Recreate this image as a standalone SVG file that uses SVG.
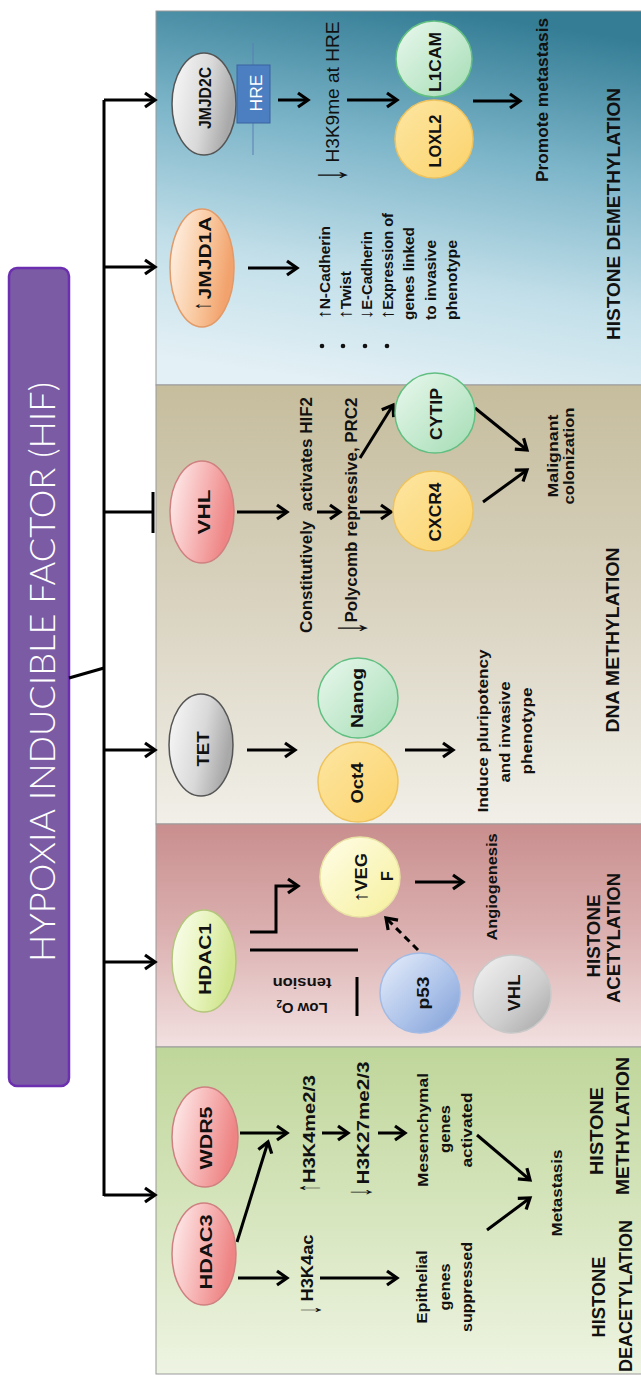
<svg xmlns="http://www.w3.org/2000/svg" width="641" height="1375" viewBox="0 0 641 1375">
<defs>
<style>
.t{font-family:"Liberation Sans",Arial,sans-serif;fill:#111;}
.b{font-weight:bold;font-size:16px;}
.s{font-weight:bold;font-size:15px;}
.r{font-size:19px;}
.p{font-weight:bold;font-size:19px;fill:#111;}
.ar{font-family:"Liberation Sans",Arial,sans-serif;font-weight:normal;fill:#111;text-anchor:middle;dominant-baseline:central;}
.ai{font-weight:normal;font-size:1.25em;}
.l{stroke:#000;stroke-width:3;fill:none;}
.a{marker-end:url(#ah);}
.panel{stroke:#9a9a9a;stroke-width:1;}
</style>
<marker id="ah" markerUnits="userSpaceOnUse" markerWidth="18" markerHeight="18" viewBox="0 0 18 18" refX="15" refY="9" orient="auto">
<path d="M5,2 L15,9 L5,16" fill="none" stroke="#000" stroke-width="3.2"/>
</marker>
<linearGradient id="pBlue" x1="0.6" y1="0" x2="0.4" y2="1">
<stop offset="0" stop-color="#347d95"/><stop offset="0.35" stop-color="#7bb4c8"/><stop offset="0.7" stop-color="#c2dfe9"/><stop offset="1" stop-color="#e3f0f5"/>
</linearGradient>
<linearGradient id="pTan" x1="0" y1="0" x2="0" y2="1">
<stop offset="0" stop-color="#c6bd9d"/><stop offset="0.5" stop-color="#d9d3c0"/><stop offset="1" stop-color="#f1efe8"/>
</linearGradient>
<linearGradient id="pPink" x1="0" y1="0" x2="0" y2="1">
<stop offset="0" stop-color="#c98e8e"/><stop offset="0.5" stop-color="#dcb1b1"/><stop offset="1" stop-color="#f2e0e0"/>
</linearGradient>
<linearGradient id="pGreen" x1="0" y1="0" x2="0" y2="1">
<stop offset="0" stop-color="#bfd69a"/><stop offset="0.5" stop-color="#d6e5bd"/><stop offset="1" stop-color="#eef4e2"/>
</linearGradient>
<linearGradient id="gGray" x1="0" y1="0" x2="1" y2="0.3">
<stop offset="0" stop-color="#fafafa"/><stop offset="0.6" stop-color="#d9d9d9"/><stop offset="1" stop-color="#a9a9a9"/>
</linearGradient>
<linearGradient id="gPink" x1="0" y1="0" x2="1" y2="0.3">
<stop offset="0" stop-color="#fff2f2"/><stop offset="0.6" stop-color="#f6b0b0"/><stop offset="1" stop-color="#ee8484"/>
</linearGradient>
<linearGradient id="gOrange" x1="0" y1="0" x2="1" y2="0.3">
<stop offset="0" stop-color="#fff5ec"/><stop offset="0.6" stop-color="#f9c9a0"/><stop offset="1" stop-color="#f2a26c"/>
</linearGradient>
<linearGradient id="gLime" x1="0" y1="0" x2="1" y2="0.3">
<stop offset="0" stop-color="#fbfef0"/><stop offset="0.6" stop-color="#e6f3ba"/><stop offset="1" stop-color="#d0e58e"/>
</linearGradient>
<linearGradient id="gGreen" x1="0" y1="0" x2="1" y2="1">
<stop offset="0" stop-color="#eaf8ee"/><stop offset="1" stop-color="#a4ddb4"/>
</linearGradient>
<linearGradient id="gYellow" x1="0" y1="0" x2="1" y2="1">
<stop offset="0" stop-color="#fde6a2"/><stop offset="1" stop-color="#fbd36c"/>
</linearGradient>
<linearGradient id="gVegf" x1="0" y1="0" x2="1" y2="1">
<stop offset="0" stop-color="#fffde8"/><stop offset="1" stop-color="#f6f09c"/>
</linearGradient>
<linearGradient id="gBlue" x1="0" y1="0" x2="1" y2="1">
<stop offset="0" stop-color="#e8effb"/><stop offset="0.6" stop-color="#a9c0e8"/><stop offset="1" stop-color="#7f9fd6"/>
</linearGradient>
<linearGradient id="gGray2" x1="0" y1="0" x2="1" y2="1">
<stop offset="0" stop-color="#f4f4f4"/><stop offset="0.6" stop-color="#cdcdcd"/><stop offset="1" stop-color="#a4a4a4"/>
</linearGradient>
</defs>

<rect width="641" height="1375" fill="#ffffff"/>

<g id="panels">
<rect class="panel" x="156" y="11" width="486" height="374" fill="url(#pBlue)"/>
<rect class="panel" x="156" y="385" width="486" height="439" fill="url(#pTan)"/>
<rect class="panel" x="156" y="824" width="486" height="223" fill="url(#pPink)"/>
<rect class="panel" x="156" y="1047" width="486" height="327" fill="url(#pGreen)"/>
<text class="t p" transform="translate(620,214) rotate(-90)" text-anchor="middle" textLength="252" lengthAdjust="spacingAndGlyphs">HISTONE DEMETHYLATION</text>
<text class="t p" transform="translate(619,640) rotate(-90)" text-anchor="middle" textLength="185" lengthAdjust="spacingAndGlyphs">DNA METHYLATION</text>
<text class="t p" transform="translate(600,936) rotate(-90)" text-anchor="middle" textLength="83" lengthAdjust="spacingAndGlyphs">HISTONE</text>
<text class="t p" transform="translate(620,938) rotate(-90)" text-anchor="middle" textLength="130" lengthAdjust="spacingAndGlyphs">ACETYLATION</text>
<text class="t p" transform="translate(603,1131) rotate(-90)" text-anchor="middle" textLength="88" lengthAdjust="spacingAndGlyphs">HISTONE</text>
<text class="t p" transform="translate(629,1126) rotate(-90)" text-anchor="middle" textLength="138" lengthAdjust="spacingAndGlyphs">METHYLATION</text>
<text class="t p" transform="translate(605,1297) rotate(-90)" text-anchor="middle" textLength="81" lengthAdjust="spacingAndGlyphs">HISTONE</text>
<text class="t p" transform="translate(632,1296) rotate(-90)" text-anchor="middle" textLength="152" lengthAdjust="spacingAndGlyphs">DEACETYLATION</text>
</g>

<g id="hif">
<rect x="9" y="268" width="60" height="818" rx="8" fill="#7b5ba4" stroke="#6c2fb0" stroke-width="2.5"/>
<text transform="translate(55,672) rotate(-90)" text-anchor="middle" font-family="Lato, 'Open Sans', sans-serif" font-weight="300" font-size="36" fill="#ffffff" textLength="580" lengthAdjust="spacingAndGlyphs">HYPOXIA INDUCIBLE FACTOR (HIF)</text>
</g>

<g id="connectors">
<path class="l" d="M104,100 V1196"/>
<path class="l a" d="M104,100 H155"/>
<path class="l a" d="M104,267 H155"/>
<path class="l a" d="M104,750 H155"/>
<path class="l a" d="M104,962 H155"/>
<path class="l a" d="M104,1195 H155"/>
<path class="l" d="M104,512 H152"/>
<path class="l" d="M153,492 V533" stroke-width="4"/>
<path class="l" d="M69,678 L104,668"/>
<path d="M253,43 V155" stroke="#5a7fb5" stroke-width="1" fill="none"/>
<path class="l a" d="M278,100 H308"/>
<path class="l a" d="M347,100 H397"/>
<path class="l a" d="M473,101 H520"/>
<path class="l a" d="M248,268 H297"/>
<path class="l a" d="M237,512 H287"/>
<path class="l a" d="M317,512 H340"/>
<path class="l a" d="M360,512 H391"/>
<path class="l a" d="M360,458 L393,405"/>
<path class="l a" d="M475,408 L527,450"/>
<path class="l a" d="M483,502 L527,470"/>
<path class="l a" d="M247,750 H295"/>
<path class="l a" d="M405,750 H453"/>
<path class="l a" d="M250,932 H276 V886 H298"/>
<path class="l" d="M250,950 H358"/>
<path class="l" d="M357,977 V1016"/>
<path class="l a" d="M415,882 H463"/>
<path class="l a" d="M418,950 L386,918" stroke-dasharray="7,5" stroke-width="3.5"/>
<path class="l a" d="M240,1133 H287"/>
<path class="l a" d="M237,1242 L268,1142"/>
<path class="l a" d="M238,1278 H287"/>
<path class="l a" d="M322,1133 H348"/>
<path class="l a" d="M378,1133 H405"/>
<path class="l a" d="M320,1278 H397"/>
<path class="l a" d="M477,1135 L530,1180"/>
<path class="l a" d="M487,1230 L530,1198"/>
</g>

<g id="jmjd2c">
<ellipse cx="204" cy="104" rx="32" ry="51" fill="url(#gGray)" stroke="#555" stroke-width="1.5"/>
<text class="t b" transform="translate(211,98) rotate(-90)" text-anchor="middle" textLength="62" lengthAdjust="spacingAndGlyphs">JMJD2C</text>
</g>
<g id="hre">
<rect x="237" y="65" width="33" height="58" fill="#4c7ec2" stroke="#3a62a0" stroke-width="1"/>
<text class="t" transform="translate(262,93) rotate(-90)" text-anchor="middle" font-size="16" style="fill:#fff" textLength="37" lengthAdjust="spacingAndGlyphs">HRE</text>
</g>
<g id="h3k9me">
<text class="ar" transform="translate(328,175) rotate(-90) scale(0.5,1)" font-size="50">↓</text>
<text class="t r" transform="translate(339,92) rotate(-90)" text-anchor="middle" textLength="141" lengthAdjust="spacingAndGlyphs">H3K9me at HRE</text>
</g>
<g id="l1cam">
<circle cx="434" cy="59" r="38" fill="url(#gGreen)" stroke="#62bf82" stroke-width="1.5"/>
<text class="t b" transform="translate(441,62) rotate(-90)" text-anchor="middle" textLength="60" lengthAdjust="spacingAndGlyphs">L1CAM</text>
</g>
<g id="loxl2">
<circle cx="434" cy="139" r="39" fill="url(#gYellow)" stroke="#eec35e" stroke-width="1.5"/>
<text class="t b" transform="translate(441,141) rotate(-90)" text-anchor="middle" textLength="53" lengthAdjust="spacingAndGlyphs">LOXL2</text>
</g>
<g id="promote">
<text class="t b" transform="translate(548,100) rotate(-90)" text-anchor="middle" textLength="164" lengthAdjust="spacingAndGlyphs">Promote metastasis</text>
</g>

<g id="jmjd1a">
<ellipse cx="202" cy="268" rx="32" ry="59" fill="url(#gOrange)" stroke="#e29a68" stroke-width="1.5"/>
<text class="ar" transform="translate(202,306) rotate(-90) scale(0.6,1)" font-size="26">↑</text>
<text class="t b" transform="translate(211,258) rotate(-90)" text-anchor="middle" textLength="83" lengthAdjust="spacingAndGlyphs">JMJD1A</text>
</g>
<g id="jmjd1a-list">
<circle cx="322" cy="346" r="2.3" fill="#111"/>
<circle cx="343" cy="346" r="2.3" fill="#111"/>
<circle cx="365" cy="346" r="2.3" fill="#111"/>
<circle cx="387" cy="346" r="2.3" fill="#111"/>
<text class="t s" transform="translate(330,319) rotate(-90)" textLength="93" lengthAdjust="spacingAndGlyphs"><tspan class="ai">↑</tspan>N-Cadherin</text>
<text class="t s" transform="translate(351,319) rotate(-90)" textLength="48" lengthAdjust="spacingAndGlyphs"><tspan class="ai">↑</tspan>Twist</text>
<text class="t s" transform="translate(372,319) rotate(-90)" textLength="88" lengthAdjust="spacingAndGlyphs"><tspan class="ai">↓</tspan>E-Cadherin</text>
<text class="t s" transform="translate(393,319) rotate(-90)" textLength="106" lengthAdjust="spacingAndGlyphs"><tspan class="ai">↑</tspan>Expression of</text>
<text class="t s" transform="translate(414,320) rotate(-90)" textLength="93" lengthAdjust="spacingAndGlyphs">genes linked</text>
<text class="t s" transform="translate(436,320) rotate(-90)" textLength="80" lengthAdjust="spacingAndGlyphs">to invasive</text>
<text class="t s" transform="translate(457,320) rotate(-90)" textLength="80" lengthAdjust="spacingAndGlyphs">phenotype</text>
</g>

<g id="vhl">
<ellipse cx="202" cy="512" rx="32" ry="51" fill="url(#gPink)" stroke="#cf8080" stroke-width="1.5"/>
<text class="t b" transform="translate(210,512) rotate(-90)" text-anchor="middle" textLength="45" lengthAdjust="spacingAndGlyphs">VHL</text>
</g>
<g id="hif2">
<text class="t b" transform="translate(312,515) rotate(-90)" text-anchor="middle" style="white-space:pre" textLength="236" lengthAdjust="spacingAndGlyphs">Constitutively  activates HIF2</text>
</g>
<g id="prc2">
<text class="ar" transform="translate(348,628) rotate(-90) scale(0.5,1)" font-size="50">↓</text>
<text class="t b" transform="translate(357,510) rotate(-90)" text-anchor="middle" textLength="225" lengthAdjust="spacingAndGlyphs">Polycomb repressive, PRC2</text>
</g>
<g id="cytip">
<circle cx="435" cy="413" r="40" fill="url(#gGreen)" stroke="#62bf82" stroke-width="1.5"/>
<text class="t b" transform="translate(442,414) rotate(-90)" text-anchor="middle" textLength="52" lengthAdjust="spacingAndGlyphs">CYTIP</text>
</g>
<g id="cxcr4">
<circle cx="433" cy="511" r="40" fill="url(#gYellow)" stroke="#eec35e" stroke-width="1.5"/>
<text class="t b" transform="translate(441,512) rotate(-90)" text-anchor="middle" textLength="59" lengthAdjust="spacingAndGlyphs">CXCR4</text>
</g>
<g id="malignant">
<text class="t s" transform="translate(558,456) rotate(-90)" text-anchor="middle" textLength="83" lengthAdjust="spacingAndGlyphs">Malignant</text>
<text class="t s" transform="translate(574,456) rotate(-90)" text-anchor="middle" textLength="97" lengthAdjust="spacingAndGlyphs">colonization</text>
</g>

<g id="tet">
<ellipse cx="201" cy="745" rx="32" ry="51" fill="url(#gGray)" stroke="#555" stroke-width="1.5"/>
<text class="t b" transform="translate(209,749) rotate(-90)" text-anchor="middle" textLength="35" lengthAdjust="spacingAndGlyphs">TET</text>
</g>
<g id="nanog">
<circle cx="358" cy="698" r="40" fill="url(#gGreen)" stroke="#62bf82" stroke-width="1.5"/>
<text class="t b" transform="translate(363,698) rotate(-90)" text-anchor="middle" textLength="60" lengthAdjust="spacingAndGlyphs">Nanog</text>
</g>
<g id="oct4">
<circle cx="358" cy="782" r="40" fill="url(#gYellow)" stroke="#eec35e" stroke-width="1.5"/>
<text class="t b" transform="translate(363,783) rotate(-90)" text-anchor="middle" textLength="41" lengthAdjust="spacingAndGlyphs">Oct4</text>
</g>
<g id="pluri">
<text class="t s" transform="translate(488,731) rotate(-90)" text-anchor="middle" textLength="163" lengthAdjust="spacingAndGlyphs">Induce pluripotency</text>
<text class="t s" transform="translate(510,732) rotate(-90)" text-anchor="middle" textLength="101" lengthAdjust="spacingAndGlyphs">and invasive</text>
<text class="t s" transform="translate(532,731) rotate(-90)" text-anchor="middle" textLength="87" lengthAdjust="spacingAndGlyphs">phenotype</text>
</g>

<g id="hdac1">
<ellipse cx="204" cy="961" rx="32" ry="51" fill="url(#gLime)" stroke="#b4c67c" stroke-width="1.5"/>
<text class="t b" transform="translate(211,959) rotate(-90)" text-anchor="middle" textLength="72" lengthAdjust="spacingAndGlyphs">HDAC1</text>
</g>
<g id="lowo2">
<text class="t s" transform="translate(302,1003) rotate(180)" text-anchor="middle">Low O<tspan font-size="10" dy="3">2</tspan></text>
<text class="t s" transform="translate(302,978) rotate(180)" text-anchor="middle" textLength="59" lengthAdjust="spacingAndGlyphs">tension</text>
</g>
<g id="vegf">
<circle cx="360" cy="877" r="40" fill="url(#gVegf)" stroke="#e9e3a4" stroke-width="1.5"/>
<text class="t b" transform="translate(367,878) rotate(-90)" text-anchor="middle" textLength="50" lengthAdjust="spacingAndGlyphs"><tspan class="ai">↑</tspan>VEG</text>
<text class="t b" transform="translate(393,876) rotate(-90)" text-anchor="middle">F</text>
</g>
<g id="angio">
<text class="t s" transform="translate(497,887) rotate(-90)" text-anchor="middle" textLength="107" lengthAdjust="spacingAndGlyphs">Angiogenesis</text>
</g>
<g id="p53">
<circle cx="420" cy="993" r="40" fill="url(#gBlue)" stroke="#a3bbe4" stroke-width="1.5"/>
<text class="t b" transform="translate(429,993) rotate(-90)" text-anchor="middle" textLength="33" lengthAdjust="spacingAndGlyphs">p53</text>
</g>
<g id="vhl2">
<circle cx="512" cy="994" r="39" fill="url(#gGray2)" stroke="#c9c9c9" stroke-width="1.5"/>
<text class="t b" transform="translate(520,993) rotate(-90)" text-anchor="middle" textLength="37" lengthAdjust="spacingAndGlyphs">VHL</text>
</g>

<g id="wdr5">
<ellipse cx="205" cy="1137" rx="33" ry="50" fill="url(#gPink)" stroke="#cf8080" stroke-width="1.5"/>
<text class="t b" transform="translate(212,1138) rotate(-90)" text-anchor="middle" textLength="63" lengthAdjust="spacingAndGlyphs">WDR5</text>
</g>
<g id="hdac3">
<ellipse cx="204" cy="1254" rx="32" ry="51" fill="url(#gPink)" stroke="#cf8080" stroke-width="1.5"/>
<text class="t b" transform="translate(212,1252) rotate(-90)" text-anchor="middle" textLength="75" lengthAdjust="spacingAndGlyphs">HDAC3</text>
</g>
<g id="h3k4me">
<text class="ar" transform="translate(308,1188) rotate(-90) scale(0.5,1)" font-size="34">↑</text>
<text class="t b" transform="translate(315,1129) rotate(-90)" text-anchor="middle" textLength="108" lengthAdjust="spacingAndGlyphs">H3K4me2/3</text>
</g>
<g id="h3k27me">
<text class="ar" transform="translate(358,1192) rotate(-90) scale(0.5,1)" font-size="36">↓</text>
<text class="t b" transform="translate(369,1123) rotate(-90)" text-anchor="middle" textLength="123" lengthAdjust="spacingAndGlyphs">H3K27me2/3</text>
</g>
<g id="mesenchymal">
<text class="t s" transform="translate(428,1130) rotate(-90)" text-anchor="middle" textLength="114" lengthAdjust="spacingAndGlyphs">Mesenchymal</text>
<text class="t s" transform="translate(450,1129) rotate(-90)" text-anchor="middle" textLength="48" lengthAdjust="spacingAndGlyphs">genes</text>
<text class="t s" transform="translate(472,1130) rotate(-90)" text-anchor="middle" textLength="75" lengthAdjust="spacingAndGlyphs">activated</text>
</g>
<g id="metastasis">
<text class="t s" transform="translate(562,1193) rotate(-90)" text-anchor="middle" textLength="87" lengthAdjust="spacingAndGlyphs">Metastasis</text>
</g>
<g id="h3k4ac">
<text class="ar" transform="translate(309,1310) rotate(-90) scale(0.5,1)" font-size="34">↓</text>
<text class="t b" transform="translate(313,1268) rotate(-90)" text-anchor="middle" textLength="67" lengthAdjust="spacingAndGlyphs">H3K4ac</text>
</g>
<g id="epithelial">
<text class="t s" transform="translate(427,1287) rotate(-90)" text-anchor="middle" textLength="73" lengthAdjust="spacingAndGlyphs">Epithelial</text>
<text class="t s" transform="translate(450,1287) rotate(-90)" text-anchor="middle" textLength="47" lengthAdjust="spacingAndGlyphs">genes</text>
<text class="t s" transform="translate(472,1287) rotate(-90)" text-anchor="middle" textLength="90" lengthAdjust="spacingAndGlyphs">suppressed</text>
</g>
</svg>
